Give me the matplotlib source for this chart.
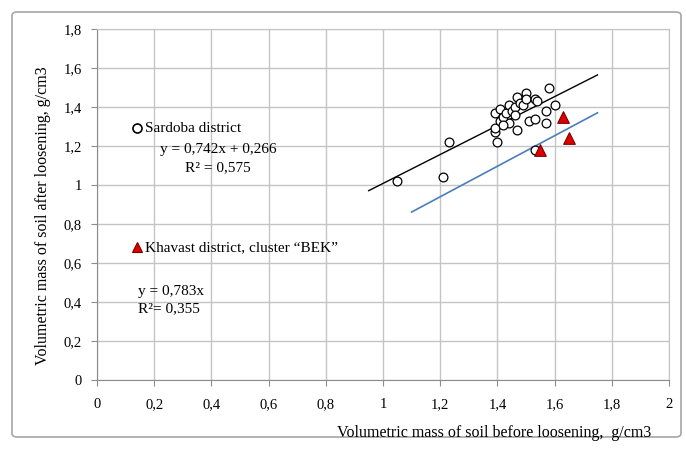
import matplotlib
matplotlib.use("Agg")
import matplotlib.pyplot as plt
from matplotlib.patches import FancyBboxPatch
import numpy as np

plt.rcParams['font.family'] = ['Liberation Serif', 'DejaVu Serif']

# Sardoba district points
sardoba_x = [1.05, 1.21, 1.23, 1.40, 1.39, 1.39, 1.41, 1.44, 1.47, 1.39, 1.41, 1.42,
             1.43, 1.44, 1.45, 1.46, 1.47, 1.48, 1.49, 1.50, 1.50, 1.51, 1.53, 1.53,
             1.54, 1.57, 1.57, 1.58, 1.60, 1.53, 1.46, 1.42]
sardoba_y = [1.02, 1.04, 1.22, 1.22, 1.27, 1.29, 1.33, 1.32, 1.28, 1.37, 1.39, 1.35,
             1.37, 1.41, 1.38, 1.40, 1.45, 1.42, 1.41, 1.47, 1.44, 1.33, 1.34, 1.44,
             1.43, 1.32, 1.38, 1.50, 1.41, 1.18, 1.36, 1.31]

# Khavast district, cluster "BEK"
khavast_x = [1.55, 1.63, 1.65]
khavast_y = [1.18, 1.35, 1.24]

# Trend lines
trend1_slope, trend1_icpt = 0.742, 0.266
trend1_x = [0.95, 1.75]
trend2_slope = 0.783
trend2_x = [1.10, 1.75]

x_ticks = [0, 0.2, 0.4, 0.6, 0.8, 1.0, 1.2, 1.4, 1.6, 1.8, 2.0]
x_ticklabels = ["0", "0,2", "0,4", "0,6", "0,8", "1", "1,2", "1,4", "1,6", "1,8", "2"]
y_ticks = [0, 0.2, 0.4, 0.6, 0.8, 1.0, 1.2, 1.4, 1.6, 1.8]
y_ticklabels = ["0", "0,2", "0,4", "0,6", "0,8", "1", "1,2", "1,4", "1,6", "1,8"]

W, H = 686, 450
fig = plt.figure(figsize=(W / 100, H / 100), dpi=100)

def fx(px):
    return px / W

def fy(py):
    return 1 - py / H

# outer frame
frame = FancyBboxPatch((fx(12), fy(437)), fx(681) - fx(12), fy(12) - fy(437),
                       boxstyle="round,pad=0,rounding_size=0.008",
                       transform=fig.transFigure, facecolor="white",
                       edgecolor="#a6a6a6", linewidth=1.2, zorder=-5)
fig.patches.append(frame)

ax = fig.add_axes([fx(97), fy(380), fx(669) - fx(97), fy(29) - fy(380)])
ax.set_zorder(2)
ax.set_facecolor("none")
ax.set_xlim(0, 2)
ax.set_ylim(0, 1.8)
ax.set_xticks(x_ticks)
ax.set_xticklabels(x_ticklabels)
ax.set_yticks(y_ticks)
ax.set_yticklabels(y_ticklabels)
ax.grid(True, color="#c4c4c4", linewidth=1.0)
ax.set_axisbelow(True)
for s in ax.spines.values():
    s.set_color("#c4c4c4")
ax.spines['left'].set_color("#8c8c8c")
ax.spines['bottom'].set_color("#8c8c8c")
ax.tick_params(axis='both', length=4, color="#8c8c8c", labelsize=10.5)
ax.tick_params(axis='x', pad=9)
ax.tick_params(axis='y', pad=7)

ax.scatter(sardoba_x, sardoba_y, s=40, facecolors="white", edgecolors="black",
           linewidths=0.9, zorder=3)
ax.scatter(khavast_x, khavast_y, s=70, marker="^", facecolors="#e00000",
           edgecolors="#7a0000", linewidths=0.8, zorder=4)

t1 = np.array(trend1_x)
ax.plot(t1, trend1_slope * t1 + trend1_icpt, color="black", linewidth=1.0, zorder=2)
t2 = np.array(trend2_x)
ax.plot(t2, trend2_slope * t2, color="#4a7ebb", linewidth=1.2, zorder=2)

# legend-like entries
fs = 11
fig.lines.append(plt.Line2D([fx(137)], [fy(128)], marker="o", markersize=6.5,
                            markerfacecolor="white", markeredgecolor="black",
                            markeredgewidth=1.2, transform=fig.transFigure, zorder=5))
fig.text(fx(145), fy(128), "Sardoba district", fontsize=fs, va="center", ha="left", zorder=5)
fig.text(fx(160), fy(150), "y = 0,742x + 0,266", fontsize=fs, va="center", ha="left", zorder=5)
fig.text(fx(185), fy(168), "R² = 0,575", fontsize=fs, va="center", ha="left", zorder=5)

fig.lines.append(plt.Line2D([fx(137)], [fy(247)], marker="^", markersize=7,
                            markerfacecolor="#e00000", markeredgecolor="#7a0000",
                            markeredgewidth=0.8, transform=fig.transFigure, zorder=5))
fig.text(fx(145), fy(248), "Khavast district, cluster “BEK”", fontsize=fs,
         va="center", ha="left", zorder=5)
fig.text(fx(138), fy(291), "y = 0,783x", fontsize=fs, va="center", ha="left", zorder=5)
fig.text(fx(138), fy(309), "R²= 0,355", fontsize=fs, va="center", ha="left", zorder=5)

fig.text(fx(494), fy(433), "Volumetric mass of soil before loosening,  g/cm3",
         fontsize=11.5, va="center", ha="center")
fig.text(fx(43), fy(216), "Volumetric mass of soil after loosening, g/cm3",
         fontsize=11.5, va="center", ha="center", rotation=90)

fig.savefig("out.png", dpi=100)
